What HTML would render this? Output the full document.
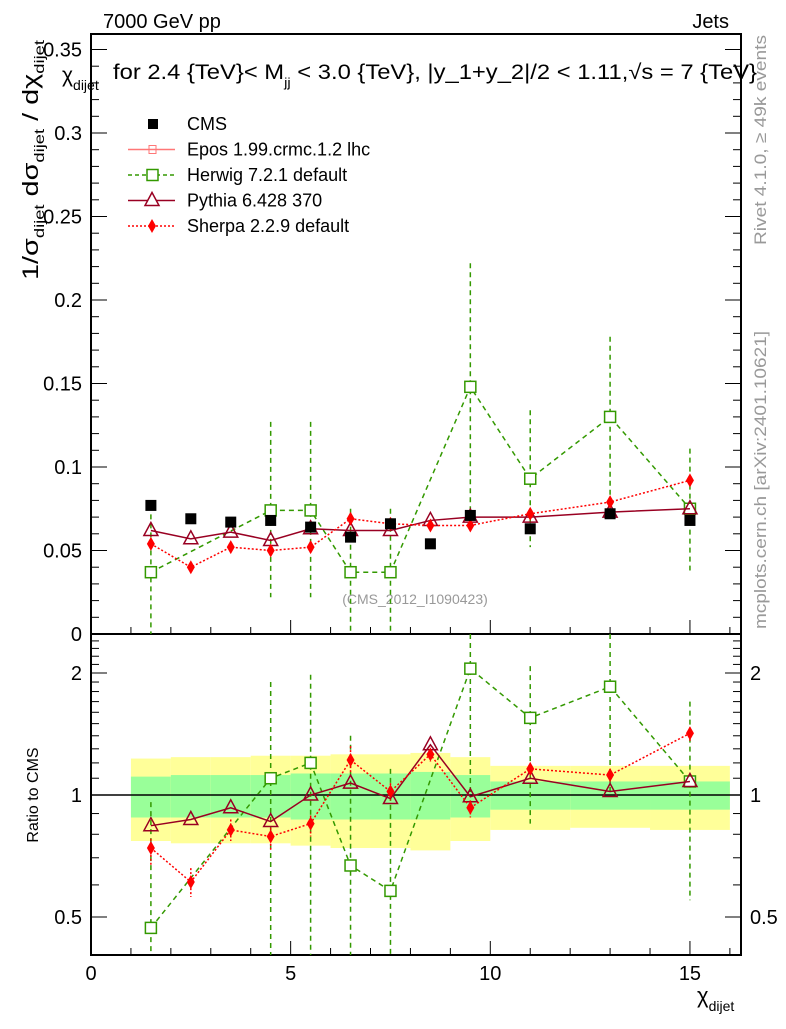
<!DOCTYPE html>
<html><head><meta charset="utf-8"><style>
body{margin:0;background:#fff;width:786px;height:1024px;overflow:hidden}
svg{font-family:"Liberation Sans",sans-serif}
</style></head><body>
<svg id="c" width="786" height="1024" viewBox="0 0 786 1024" xmlns="http://www.w3.org/2000/svg">
<text x="103" y="28" font-size="20">7000 GeV pp</text>
<text x="729" y="28" font-size="20" text-anchor="end">Jets</text>
<text transform="translate(766,140) rotate(-90)" font-size="17" fill="#999" text-anchor="middle" textLength="210" lengthAdjust="spacingAndGlyphs">Rivet 4.1.0, ≥ 49k events</text>
<text transform="translate(766,480) rotate(-90)" font-size="17" fill="#999" text-anchor="middle" textLength="298" lengthAdjust="spacingAndGlyphs">mcplots.cern.ch [arXiv:2401.10621]</text>
<text x="415" y="604" font-size="14" fill="#999" text-anchor="middle">(CMS_2012_I1090423)</text>
<g font-size="21">
<text x="62" y="82">χ<tspan font-size="14" dy="8">dijet</tspan></text>
<text x="113" y="79" textLength="644" lengthAdjust="spacingAndGlyphs">for 2.4 {TeV}&lt; M<tspan font-size="13" dy="8">jj</tspan><tspan dy="-8"> &lt; 3.0 {TeV}, |y_1+y_2|/2 &lt; 1.11,√s = 7 {TeV}</tspan></text>
</g>
<text transform="translate(38,280) rotate(-90)" font-size="22" textLength="240" lengthAdjust="spacingAndGlyphs">1/σ<tspan font-size="14" dy="6">dijet</tspan><tspan dy="-6"> dσ</tspan><tspan font-size="14" dy="6">dijet</tspan><tspan dy="-6"> / dχ</tspan><tspan font-size="14" dy="6">dijet</tspan></text>
<text transform="translate(38,795) rotate(-90)" font-size="16" text-anchor="middle">Ratio to CMS</text>
<text x="697" y="1003" font-size="22">χ<tspan font-size="14" dy="8">dijet</tspan></text>
<g id="legend" font-size="18"></g>
</svg>
<script>
const categories=[1.5,2.5,3.5,4.5,5.5,6.5,7.5,8.5,9.5,11,13,15];
const binLo=[1,2,3,4,5,6,7,8,9,10,12,14];
const binHi=[2,3,4,5,6,7,8,9,10,12,14,16];
const cms=[0.077,0.069,0.067,0.068,0.064,0.058,0.066,0.054,0.071,0.063,0.072,0.068];
const herwig=[0.037,null,null,0.074,0.074,0.037,0.037,null,0.148,0.093,0.130,0.075];
const herwigUp=[0.077,null,null,0.127,0.127,0.075,0.075,null,0.222,0.134,0.178,0.111];
const herwigDn=[0,null,null,0.022,0.022,0,0,null,0.074,0.052,0.072,0.038];
const pythia=[0.062,0.057,0.061,0.056,0.063,0.062,0.062,0.068,0.070,0.070,0.073,0.075];
const sherpa=[0.054,0.040,0.052,0.050,0.052,0.069,0.066,0.065,0.065,0.072,0.079,0.092];
const rPythia=[0.84,0.87,0.93,0.86,1.0,1.07,0.98,1.33,0.99,1.10,1.02,1.08];
const rSherpa=[0.74,0.61,0.82,0.79,0.85,1.22,1.02,1.26,0.93,1.16,1.12,1.42];
const rSherpaUp=[0.78,0.66,0.87,0.83,0.89,1.32,1.07,1.30,0.97,1.20,1.16,1.47];
const rSherpaDn=[0.67,0.56,0.77,0.73,0.79,1.13,0.97,1.21,0.88,1.12,1.08,1.36];
const rHerwig=[0.47,null,null,1.10,1.20,0.67,0.58,null,2.05,1.55,1.85,1.08];
const rHerwigUp=[0.96,null,null,1.90,1.98,1.40,1.16,null,3.0,2.08,3.0,1.70];
const rHerwigDn=[0.3,null,null,0.3,0.3,0.3,0.3,null,1.0,0.85,1.0,0.55];
const yelUp=[1.23,1.24,1.24,1.25,1.25,1.26,1.26,1.27,1.24,1.18,1.18,1.18];
const yelDn=[0.77,0.76,0.76,0.76,0.75,0.74,0.74,0.73,0.77,0.82,0.83,0.82];
const grnUp=[1.11,1.12,1.12,1.12,1.13,1.13,1.13,1.14,1.12,1.08,1.08,1.08];
const grnDn=[0.88,0.88,0.88,0.88,0.87,0.87,0.87,0.87,0.88,0.92,0.92,0.92];
const mainTicks=[0,0.05,0.1,0.15,0.2,0.25,0.3,0.35];
const mainTickLabels=["0","0.05","0.1","0.15","0.2","0.25","0.3","0.35"];
const xTicks=[0,5,10,15];
const ratioTicks=[0.5,1,2];
const ratioTickLabels=["0.5","1","2"];
const L=91,R=741,MT=34,MB=634,RB=955;
const X=v=>L+(v)*39.93;
const Y=v=>634-v*1670;
const YR=v=>{let p=795-122*Math.log2(v);return Math.min(Math.max(p,634),955);};
const NS="http://www.w3.org/2000/svg";
const svg=document.getElementById('c');
function mk(t,a,p){const e=document.createElementNS(NS,t);for(const k in a)e.setAttribute(k,a[k]);(p||svg).appendChild(e);return e;}
binLo.forEach((lo,i)=>{
 const y=mk('rect',{x:X(lo),y:YR(yelUp[i]),width:X(binHi[i])-X(lo),height:YR(yelDn[i])-YR(yelUp[i]),fill:'#ffff99'});
 
 
 const g=mk('rect',{x:X(lo),y:YR(grnUp[i]),width:X(binHi[i])-X(lo),height:YR(grnDn[i])-YR(grnUp[i]),fill:'#99ff99'});
 
 
});
mk('line',{x1:L,x2:R,y1:YR(1),y2:YR(1),stroke:'#000','stroke-width':1.5});
[[MT,MB],[MB,RB]].forEach(([t,b])=>{
 const f=mk('rect',{x:L,y:t,width:R-L,height:b-t,fill:'none',stroke:'#000','stroke-width':2});
 
 
});
for(let v=0;v<=16.2;v+=0.5){const maj=v%5===0;const len=maj?14:(v%1===0?7:0);if(!len)continue;
 [MB,RB].forEach(b=>{mk('line',{x1:X(v),x2:X(v),y1:b,y2:b-len,stroke:'#000'});});
}
xTicks.forEach(v=>{const t=mk('text',{x:X(v),y:980,'font-size':20,'text-anchor':'middle'});t.textContent=v;
 
 });
for(let v=0;v<=0.355;v+=0.01){const maj=Math.abs(v*20-Math.round(v*20))<1e-6;const len=maj?16:8;
 mk('line',{x1:L,x2:L+len,y1:Y(v),y2:Y(v),stroke:'#000'});mk('line',{x1:R,x2:R-len,y1:Y(v),y2:Y(v),stroke:'#000'});}
mainTicks.forEach((v,i)=>{const t=mk('text',{x:82,y:Y(v)+7,'font-size':20,'text-anchor':'end'});t.textContent=mainTickLabels[i];
 
 });
[0.4,0.5,0.6,0.7,0.8,0.9,1,2].forEach(v=>{const maj=(v===0.5||v===1||v===2);const len=maj?16:8;
 mk('line',{x1:L,x2:L+len,y1:YR(v),y2:YR(v),stroke:'#000'});mk('line',{x1:R,x2:R-len,y1:YR(v),y2:YR(v),stroke:'#000'});});
[1.1,1.2,1.3,1.4,1.5,1.6,1.7,1.8,1.9,2.1,2.2,2.3,2.4].forEach(v=>{mk('line',{x1:L,x2:L+8,y1:YR(v),y2:YR(v),stroke:'#000'});mk('line',{x1:R,x2:R-8,y1:YR(v),y2:YR(v),stroke:'#000'});});
ratioTicks.forEach((v,i)=>{[82,750].forEach((x,j)=>{const t=mk('text',{x:x,y:YR(v)+7,'font-size':20,'text-anchor':j?'start':'end'});t.textContent=ratioTickLabels[i];
 
 });});
function series(vals,up,dn,yf,color,dash,marker,name,width){
 const g=mk('g',{});
 
 
 let pts=[];categories.forEach((c,i)=>{if(vals[i]!=null)pts.push([X(c),yf(vals[i])]);});
 mk('polyline',{points:pts.map(p=>p.join(',')).join(' '),fill:'none',stroke:color,'stroke-width':width||1.5,'stroke-dasharray':dash||''},g);
 categories.forEach((c,i)=>{if(vals[i]==null)return;const x=X(c),y=yf(vals[i]);
  if(up)mk('line',{x1:x,x2:x,y1:yf(up[i]),y2:yf(dn[i]),stroke:color,'stroke-width':1.5,'stroke-dasharray':dash||''},g);
  if(marker==='sq')mk('rect',{x:x-5.5,y:y-5.5,width:11,height:11,fill:'#fff',stroke:color,'stroke-width':1.5},g);
  if(marker==='tri')mk('polygon',{points:`${x},${y-8} ${x-7},${y+5} ${x+7},${y+5}`,fill:'none',stroke:color,'stroke-width':1.5},g);
  if(marker==='dia')mk('polygon',{points:`${x},${y-7} ${x-4},${y} ${x},${y+7} ${x+4},${y}`,fill:color},g);
 });
}
series(herwig,herwigUp,herwigDn,v=>Math.min(Math.max(Y(v),MT),MB),'#339900','5,4','sq','herwig-series');
series(pythia,null,null,Y,'#990022','','tri','pythia-series');
series(sherpa,sherpa.map(v=>v+0.003),sherpa.map(v=>v-0.003),Y,'#ff0000','2,2','dia','sherpa-series');
series(rHerwig,rHerwigUp,rHerwigDn,YR,'#339900','5,4','sq','herwig-ratio');
series(rPythia,null,null,YR,'#990022','','tri','pythia-ratio');
series(rSherpa,rSherpaUp,rSherpaDn,YR,'#ff0000','2,2','dia','sherpa-ratio');
categories.forEach((c,i)=>{const r=mk('rect',{x:X(c)-5.5,y:Y(cms[i])-5.5,width:11,height:11,fill:'#000'});
 
 });
const lg=document.getElementById('legend');
const items=[['CMS','cms'],['Epos 1.99.crmc.1.2 lhc','epos'],['Herwig 7.2.1 default','herwig'],['Pythia 6.428 370','pythia'],['Sherpa 2.2.9 default','sherpa']];
items.forEach((it,i)=>{const y=124+i*25.5;const g=mk('g',{},lg);
 
 
 const t=mk('text',{x:187,y:y+6},g);t.textContent=it[0];
 const k=it[1];
 if(k==='cms')mk('rect',{x:148,y:y-5,width:10,height:10,fill:'#000'},g);
 if(k==='epos'){mk('line',{x1:128,x2:175,y1:y,y2:y,stroke:'#ff7777','stroke-width':1.5},g);mk('rect',{x:149,y:y-4,width:7,height:8,fill:'none',stroke:'#ff7777'},g);}
 if(k==='herwig'){mk('line',{x1:128,x2:175,y1:y,y2:y,stroke:'#339900','stroke-width':1.5,'stroke-dasharray':'4,3'},g);mk('rect',{x:147,y:y-5.5,width:11,height:11,fill:'#fff',stroke:'#339900','stroke-width':1.5},g);}
 if(k==='pythia'){mk('line',{x1:128,x2:175,y1:y,y2:y,stroke:'#990022','stroke-width':1.5},g);mk('polygon',{points:`152,${y-8} 145,${y+5} 159,${y+5}`,fill:'#fff',stroke:'#990022','stroke-width':1.5},g);}
 if(k==='sherpa'){mk('line',{x1:128,x2:175,y1:y,y2:y,stroke:'#ff0000','stroke-width':1.5,'stroke-dasharray':'2,2'},g);mk('polygon',{points:`152,${y-7} 148,${y} 152,${y+7} 156,${y}`,fill:'#ff0000'},g);}
});
</script>
</body></html>
